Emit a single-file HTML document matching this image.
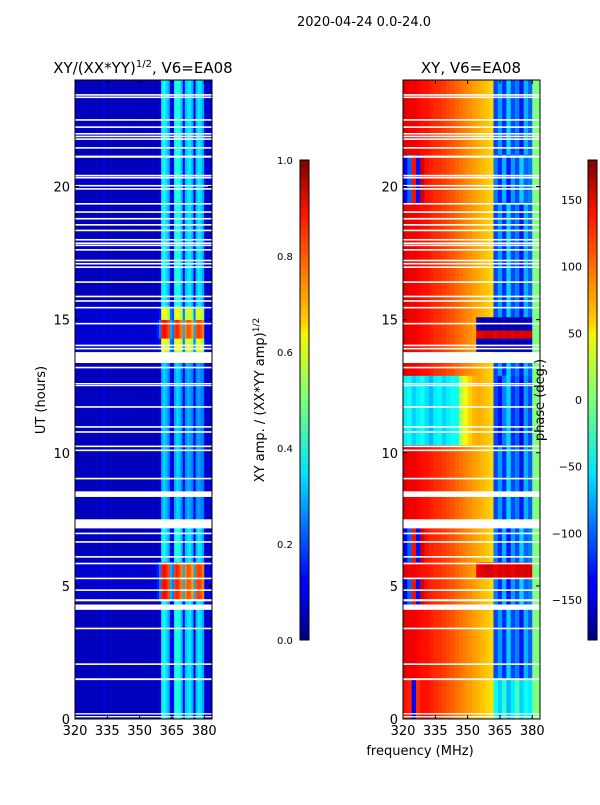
<!DOCTYPE html>
<html><head><meta charset="utf-8">
<style>
body{margin:0;background:#fff;}
svg text{font-family:"DejaVu Sans","Liberation Sans",sans-serif;fill:#000;}
</style></head>
<body>
<svg id="fig" xmlns="http://www.w3.org/2000/svg" width="600" height="800" viewBox="0 0 600 800">
<defs>
<linearGradient id="jet" x1="0" y1="1" x2="0" y2="0">
<stop offset="0" stop-color="#00007f"/><stop offset="0.11" stop-color="#0000ff"/><stop offset="0.125" stop-color="#0000ff"/>
<stop offset="0.34" stop-color="#00dcff"/><stop offset="0.35" stop-color="#00e5f7"/><stop offset="0.5" stop-color="#7cff79"/>
<stop offset="0.64" stop-color="#f7f400"/><stop offset="0.66" stop-color="#ffd000"/><stop offset="0.89" stop-color="#ff1300"/><stop offset="1" stop-color="#7f0000"/>
</linearGradient>
</defs>
<text x="364" y="26" font-size="13" text-anchor="middle">2020-04-24 0.0-24.0</text>
<text x="143" y="73" font-size="15" text-anchor="middle">XY/(XX*YY)<tspan font-size="10" dy="-6">1/2</tspan><tspan dy="6">, V6=EA08</tspan></text>
<text x="471" y="73" font-size="15" text-anchor="middle">XY, V6=EA08</text>
<g id="left"></g>
<g id="right"></g>
<g id="axes"></g>
<text x="45" y="400" font-size="13" text-anchor="middle" transform="rotate(-90 45 400)">UT (hours)</text>
<text x="420" y="755" font-size="13" text-anchor="middle">frequency (MHz)</text>
<rect x="300" y="160" width="9" height="480" fill="url(#jet)" stroke="#000" stroke-width="1"/>
<rect x="588" y="160" width="9" height="480" fill="url(#jet)" stroke="#000" stroke-width="1"/>
<text x="264" y="400" font-size="13" text-anchor="middle" transform="rotate(-90 264 400)">XY amp. / (XX*YY amp)<tspan font-size="9" dy="-5">1/2</tspan></text>
<text x="544" y="400" font-size="13" text-anchor="middle" transform="rotate(-90 544 400)">phase (deg.)</text>
</svg>
<script>
const hourTicks=[0,5,10,15,20];
const freqTicks=[320,335,350,365,380];
const ampTicks=[0.0,0.2,0.4,0.6,0.8,1.0];
const phaseTicks=[-150,-100,-50,0,50,100,150];
// left amplitude column profiles (1 MHz columns, 320..383)
const ampNormal=[0.06,0.06,0.06,0.06,0.06,0.06,0.06,0.06,0.06,0.06,0.06,0.06,0.06,0.1,0.06,0.06,0.06,0.06,0.06,0.06,0.06,0.06,0.06,0.06,0.06,0.06,0.06,0.06,0.06,0.06,0.06,0.06,0.06,0.06,0.06,0.06,0.06,0.06,0.06,0.08,0.36,0.4,0.34,0.3,0.12,0.1,0.38,0.42,0.4,0.32,0.12,0.32,0.35,0.36,0.3,0.12,0.32,0.36,0.34,0.28,0.08,0.08,0.08,0.08];
const ampDim=[0.06,0.06,0.06,0.06,0.06,0.06,0.06,0.06,0.06,0.06,0.06,0.06,0.06,0.1,0.06,0.06,0.06,0.06,0.06,0.06,0.06,0.06,0.06,0.06,0.06,0.06,0.06,0.06,0.06,0.06,0.06,0.06,0.06,0.06,0.06,0.06,0.06,0.06,0.06,0.08,0.3,0.34,0.3,0.26,0.12,0.1,0.3,0.34,0.32,0.26,0.12,0.26,0.3,0.28,0.25,0.12,0.26,0.28,0.26,0.24,0.08,0.08,0.08,0.08];
const ampHigh=[0.08,0.08,0.08,0.08,0.08,0.08,0.08,0.08,0.08,0.08,0.08,0.08,0.08,0.1,0.08,0.08,0.08,0.08,0.08,0.08,0.08,0.08,0.08,0.08,0.08,0.08,0.08,0.08,0.08,0.08,0.08,0.08,0.08,0.08,0.08,0.08,0.08,0.1,0.15,0.25,0.85,0.88,0.85,0.8,0.3,0.25,0.82,0.85,0.8,0.75,0.3,0.75,0.8,0.78,0.72,0.3,0.8,0.82,0.8,0.75,0.1,0.1,0.1,0.1];
const ampMid=[0.08,0.08,0.08,0.08,0.08,0.08,0.08,0.08,0.08,0.08,0.08,0.08,0.08,0.1,0.08,0.08,0.08,0.08,0.08,0.08,0.08,0.08,0.08,0.08,0.08,0.08,0.08,0.08,0.08,0.08,0.08,0.08,0.08,0.08,0.08,0.08,0.08,0.08,0.1,0.15,0.6,0.62,0.58,0.55,0.25,0.2,0.58,0.62,0.6,0.55,0.25,0.55,0.6,0.58,0.52,0.25,0.58,0.6,0.58,0.52,0.1,0.1,0.1,0.1];
const ampSegStart=[0,4.5,5.9,7.4,13.8,14.3,15.0,15.5];
const ampSegEnd=[4.5,5.9,7.4,13.8,14.3,15.0,15.5,24];
const ampSegType=['n','h','n','d','m','h','m','n'];
// right phase column profiles (2 MHz columns, 320..384)
const phR=[145,140,140,135,130,130,125,120,118,115,110,105,100,95,90,85,80,75,70,65,60,-110,-80,-120,-60,-110,-90,-130,-70,-100,0,0];
const phC=[-50,-40,-60,-50,-40,-55,-70,-50,-45,-60,-50,-40,-45,20,40,60,70,75,70,65,60,-110,-130,-90,-60,-120,-100,-140,-80,-110,0,0];
const phB=[-140,-100,130,-130,150,130,125,120,118,115,110,105,100,95,90,85,80,75,70,65,60,-90,-120,-70,-130,-80,-110,-60,-100,-90,0,0];
const phS=[145,140,140,135,130,130,125,120,118,115,110,105,100,95,90,85,80,-160,-165,-160,-165,-160,-170,-155,-165,-160,-170,-160,-165,-150,0,0];
const phT=[145,140,140,135,130,130,125,120,118,115,110,105,100,95,90,85,80,140,145,150,150,140,150,145,150,140,150,145,150,145,0,0];
const phY=[130,125,-140,120,130,130,125,120,115,110,105,100,95,90,85,80,75,70,65,60,55,-40,-60,-30,-70,-50,-20,-60,-40,-50,0,0];
const phSegStart=[0,1.5,4.3,5.3,5.9,7.5,10.3,12.9,13.8,14.3,14.6,15.1,19.4,21.2];
const phSegEnd=[1.5,4.3,5.3,5.9,7.5,10.3,12.9,13.8,14.3,14.6,15.1,19.4,21.2,24];
const phSegType=['Y','R','B','T','B','R','C','R','S','T','S','R','B','R'];
// flagged (white) time ranges, hours
const gapStart=[0.07,0.17,1.46,2.03,3.37,4.10,4.42,4.81,5.25,5.81,6.06,6.62,6.94,7.16,8.34,9.0,10.06,10.21,10.75,10.94,11.69,12.50,12.57,13.17,13.37,13.88,14.0,14.82,15.42,15.67,15.84,16.38,16.94,17.07,17.19,17.59,17.76,17.84,17.97,18.32,18.53,18.76,19.01,19.32,19.88,20.0,20.30,20.38,21.08,21.42,21.75,21.85,21.95,22.2,22.47,23.32,23.41];
const gapEnd=[0.11,0.22,1.53,2.09,3.43,4.30,4.50,4.87,5.31,5.87,6.12,6.68,7.0,7.50,8.55,9.06,10.12,10.27,10.81,11.0,11.75,12.55,12.62,13.23,13.78,13.94,14.06,14.88,15.48,15.73,15.90,16.44,17.0,17.13,17.25,17.65,17.82,17.9,18.03,18.38,18.59,18.82,19.07,19.38,19.94,20.06,20.36,20.44,21.16,21.48,21.81,21.91,22.01,22.26,22.53,23.38,23.47];

const NS='http://www.w3.org/2000/svg';
const fmin=320,fmax=383.6,PY0=719,PY1=80;
function xs(f,x0){return x0+(f-fmin)/(fmax-fmin)*137;}
function ys(h){return PY0-(h/24)*(PY0-PY1);}
function clip(v){return Math.max(0,Math.min(1,v));}
function jet(t){t=clip(t);const r=clip(1.5-Math.abs(4*t-3)),g=clip(1.5-Math.abs(4*t-2)),b=clip(1.5-Math.abs(4*t-1));
return 'rgb('+Math.round(r*255)+','+Math.round(g*255)+','+Math.round(b*255)+')';}
function mk(tag,attrs,parent){const e=document.createElementNS(NS,tag);for(const k in attrs)e.setAttribute(k,attrs[k]);parent.appendChild(e);return e;}

const left=document.getElementById('left'),right=document.getElementById('right'),axes=document.getElementById('axes');
const ampProfiles={n:ampNormal,d:ampDim,h:ampHigh,m:ampMid};
const phProfiles={R:phR,C:phC,B:phB,S:phS,T:phT,Y:phY};

for(let s=0;s<ampSegStart.length;s++){
  const prof=ampProfiles[ampSegType[s]];
  const y0=ys(ampSegEnd[s]),y1=ys(ampSegStart[s]);
  for(let c=0;c<prof.length;c++){
    const fa=fmin+c,fb=Math.min(fmax,fmin+c+1);
    const r=mk('rect',{x:xs(fa,75),y:y0,width:xs(fb,75)-xs(fa,75)+0.3,height:y1-y0+0.3,fill:jet(prof[c])},left);
    
    
  }
}
for(let s=0;s<phSegStart.length;s++){
  const prof=phProfiles[phSegType[s]];
  const y0=ys(phSegEnd[s]),y1=ys(phSegStart[s]);
  for(let c=0;c<prof.length;c++){
    const fa=fmin+2*c,fb=Math.min(fmax,fmin+2*c+2);
    const r=mk('rect',{x:xs(fa,403),y:y0,width:xs(fb,403)-xs(fa,403)+0.3,height:y1-y0+0.3,fill:jet((prof[c]+180)/360)},right);
    
    
  }
}
[[75,left],[403,right]].forEach(([x0,g])=>{
  for(let i=0;i<gapStart.length;i++){
    const y0=ys(gapEnd[i]),y1=ys(gapStart[i]);
    const r=mk('rect',{x:x0,y:y0,width:137,height:Math.max(1.3,y1-y0),fill:'#fff'},g);
    
    
  }
});
[75,403].forEach(x0=>{
  const f=mk('rect',{x:x0,y:PY1,width:137,height:PY0-PY1,fill:'none',stroke:'#000','stroke-width':1},axes);
  
  
  hourTicks.forEach(h=>{
    const y=ys(h);
    mk('line',{x1:x0,x2:x0+4,y1:y,y2:y,stroke:'#000'},axes);
    mk('line',{x1:x0+137,x2:x0+133,y1:y,y2:y,stroke:'#000'},axes);
    const t=mk('text',{x:x0-5,y:y+5,'font-size':13,'text-anchor':'end'},axes);
    t.textContent=h;
    
    
  });
  freqTicks.forEach(fq=>{
    const x=xs(fq,x0);
    mk('line',{x1:x,x2:x,y1:PY0,y2:PY0-4,stroke:'#000'},axes);
    mk('line',{x1:x,x2:x,y1:PY1,y2:PY1+4,stroke:'#000'},axes);
    const t=mk('text',{x:x,y:PY0+16,'font-size':13,'text-anchor':'middle'},axes);
    t.textContent=fq;
    
    
  });
});
ampTicks.forEach(v=>{
  const y=640-v*480;
  mk('line',{x1:300,x2:303,y1:y,y2:y,stroke:'#000'},axes);
  mk('line',{x1:309,x2:306,y1:y,y2:y,stroke:'#000'},axes);
  const t=mk('text',{x:277,y:y+4,'font-size':10,'text-anchor':'start'},axes);
  t.textContent=v.toFixed(1);
  
  
});
phaseTicks.forEach(v=>{
  const y=400-v/180*240;
  mk('line',{x1:588,x2:591,y1:y,y2:y,stroke:'#000'},axes);
  mk('line',{x1:597,x2:594,y1:y,y2:y,stroke:'#000'},axes);
  const t=mk('text',{x:582,y:y+4,'font-size':11,'text-anchor':'end'},axes);
  t.textContent=v<0?'\u2212'+(-v):v;
  
  
});
</script>
</body></html>
